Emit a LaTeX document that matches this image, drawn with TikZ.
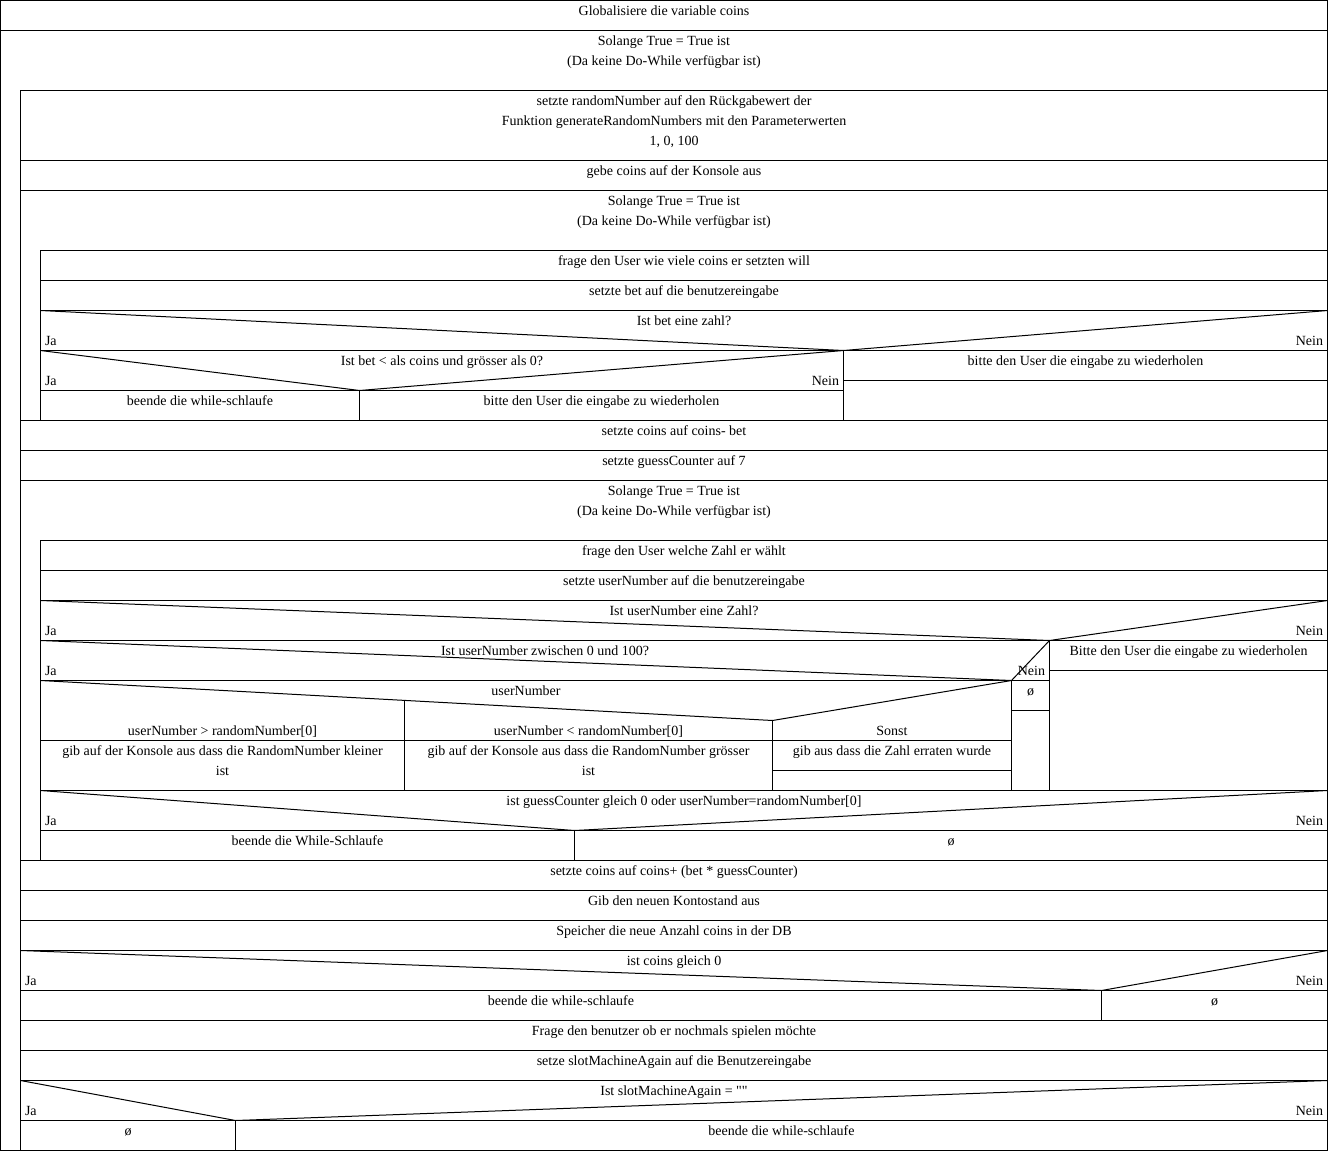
\documentclass[tikz,border=0pt]{standalone}
\usepackage{fontspec}
\setmainfont{Liberation Serif}[Ligatures=TeXOff]

\begin{document}
\begin{tikzpicture}[x=1pt, y=-1pt, line width=1pt,
    every node/.style={font=\fontsize{14}{20}\selectfont},
    txt/.style={anchor=north, inner sep=0pt, align=center, execute at begin node=\strut},
    ja/.style={anchor=base west, inner sep=0pt},
    nein/.style={anchor=base east, inner sep=0pt}]
  \useasboundingbox (-0.5,-0.5) rectangle (1327.5,1150.5);

  % einfache Anweisungen
  \foreach \l/\t/\n/\s in {
      0/0/glob/{Globalisiere die variable coins},
      20/160/ausgabe/{gebe coins auf der Konsole aus},
      40/250/frageBet/{frage den User wie viele coins er setzten will},
      40/280/setzeBet/{setzte bet auf die benutzereingabe},
      20/420/abzug/{setzte coins auf coins- bet},
      20/450/counter/{setzte guessCounter auf 7},
      40/540/frageZahl/{frage den User welche Zahl er wählt},
      40/570/setzeZahl/{setzte userNumber auf die benutzereingabe},
      20/860/gewinn/{setzte coins auf coins+ (bet * guessCounter)},
      20/890/konto/{Gib den neuen Kontostand aus},
      20/920/db/{Speicher die neue Anzahl coins in der DB},
      20/1020/nochmals/{Frage den benutzer ob er nochmals spielen möchte},
      20/1050/again/{setze slotMachineAgain auf die Benutzereingabe}}
  {
    \draw (\l,\t) rectangle (1327,\t+30);
    \node[txt] (\n) at ({(\l+1327)/2},\t) {\s};
  }

  % aeussere Schleife
  \draw (0,30) rectangle (1327,1150);
  \draw (20,90) -- (20,1150);
  \node[txt] (loopA) at (663.5,35) {Solange True = True ist\\(Da keine Do-While verfügbar ist)};
  \draw (20,90) rectangle (1327,160);
  \node[txt] (random) at (673.5,95) {setzte randomNumber auf den Rückgabewert der\\Funktion generateRandomNumbers mit den Parameterwerten\\1, 0, 100};

  % Schleife Einsatz
  \draw (20,190) rectangle (1327,420);
  \draw (40,250) -- (40,420);
  \node[txt] (loopB) at (673.5,195) {Solange True = True ist\\(Da keine Do-While verfügbar ist)};
  \draw (40,310) rectangle (1327,420);
  \draw (40,310) -- (843,350) -- (1327,310);
  \draw (40,350) -- (1327,350) (843,350) -- (843,420);
  \node[txt] (ifBet) at (683.5,310) {Ist bet eine zahl?};
  \node[ja] (jaBet) at (44,345) {Ja};
  \node[nein] (neinBet) at (1323,345) {Nein};
  \draw (40,350) -- (359,390) -- (843,350);
  \draw (40,390) -- (843,390) (359,390) -- (359,420);
  \node[txt] (ifCoins) at (441.5,350) {Ist bet < als coins und grösser als 0?};
  \node[ja] (jaCoins) at (44,385) {Ja};
  \node[nein] (neinCoins) at (839,385) {Nein};
  \node[txt] (endeBet) at (199.5,390) {beende die while-schlaufe};
  \node[txt] (wiederBet) at (601,390) {bitte den User die eingabe zu wiederholen};
  \draw (843,380) -- (1327,380);
  \node[txt] (wiederZahl) at (1085,350) {bitte den User die eingabe zu wiederholen};

  % Schleife Raten
  \draw (20,480) rectangle (1327,860);
  \draw (40,540) -- (40,860);
  \node[txt] (loopC) at (673.5,485) {Solange True = True ist\\(Da keine Do-While verfügbar ist)};
  \draw (40,600) rectangle (1327,790);
  \draw (40,600) -- (1049,640) -- (1327,600);
  \draw (40,640) -- (1327,640) (1049,640) -- (1049,790);
  \node[txt] (ifZahl) at (683.5,600) {Ist userNumber eine Zahl?};
  \node[ja] (jaZahl) at (44,635) {Ja};
  \node[nein] (neinZahl) at (1323,635) {Nein};
  \draw (40,640) -- (1011,680) -- (1049,640);
  \draw (40,680) -- (1049,680) (1011,680) -- (1011,790);
  \node[txt] (ifBereich) at (544.5,640) {Ist userNumber zwischen 0 und 100?};
  \node[ja] (jaBereich) at (44,675) {Ja};
  \node[nein] (neinBereich) at (1045,675) {Nein};
  % Fallunterscheidung
  \draw (40,680) -- (772,720) -- (1011,680);
  \draw (40,740) -- (1011,740);
  \draw (404,699.9) -- (404,790) (772,720) -- (772,790);
  \node[txt] (fall) at (525.5,680) {userNumber};
  \node[txt] (fallA) at (222,720) {userNumber > randomNumber[0]};
  \node[txt] (fallB) at (588,720) {userNumber < randomNumber[0]};
  \node[txt] (fallC) at (891.5,720) {Sonst};
  \node[txt] (kleiner) at (222,745) {gib auf der Konsole aus dass die RandomNumber kleiner\\ist};
  \node[txt] (groesser) at (588,745) {gib auf der Konsole aus dass die RandomNumber grösser\\ist};
  \node[txt] (erraten) at (891.5,740) {gib aus dass die Zahl erraten wurde};
  \draw (772,770) -- (1011,770);
  \draw (1011,710) -- (1049,710);
  \node[txt] (leerBereich) at (1030,680) {ø};
  \draw (1049,670) -- (1327,670);
  \node[txt] (wiederRaten) at (1188,640) {Bitte den User die eingabe zu wiederholen};
  % Abbruch Raten
  \draw (40,790) rectangle (1327,860);
  \draw (40,790) -- (574,830) -- (1327,790);
  \draw (40,830) -- (1327,830) (574,830) -- (574,860);
  \node[txt] (ifEnde) at (683.5,790) {ist guessCounter gleich 0 oder userNumber=randomNumber[0]};
  \node[ja] (jaEnde) at (44,825) {Ja};
  \node[nein] (neinEnde) at (1323,825) {Nein};
  \node[txt] (endeRaten) at (307,830) {beende die While-Schlaufe};
  \node[txt] (leerEnde) at (950.5,830) {ø};

  % coins gleich 0
  \draw (20,950) rectangle (1327,1020);
  \draw (20,950) -- (1101,990) -- (1327,950);
  \draw (20,990) -- (1327,990) (1101,990) -- (1101,1020);
  \node[txt] (ifPleite) at (673.5,950) {ist coins gleich 0};
  \node[ja] (jaPleite) at (24,985) {Ja};
  \node[nein] (neinPleite) at (1323,985) {Nein};
  \node[txt] (endePleite) at (560.5,990) {beende die while-schlaufe};
  \node[txt] (leerPleite) at (1214,990) {ø};

  % nochmals spielen
  \draw (20,1080) rectangle (1327,1150);
  \draw (20,1080) -- (235,1120) -- (1327,1080);
  \draw (20,1120) -- (1327,1120) (235,1120) -- (235,1150);
  \node[txt] (ifAgain) at (673.5,1080) {Ist slotMachineAgain = ""};
  \node[ja] (jaAgain) at (24,1115) {Ja};
  \node[nein] (neinAgain) at (1323,1115) {Nein};
  \node[txt] (leerAgain) at (127.5,1120) {ø};
  \node[txt] (endeAgain) at (781,1120) {beende die while-schlaufe};
\end{tikzpicture}
\end{document}
